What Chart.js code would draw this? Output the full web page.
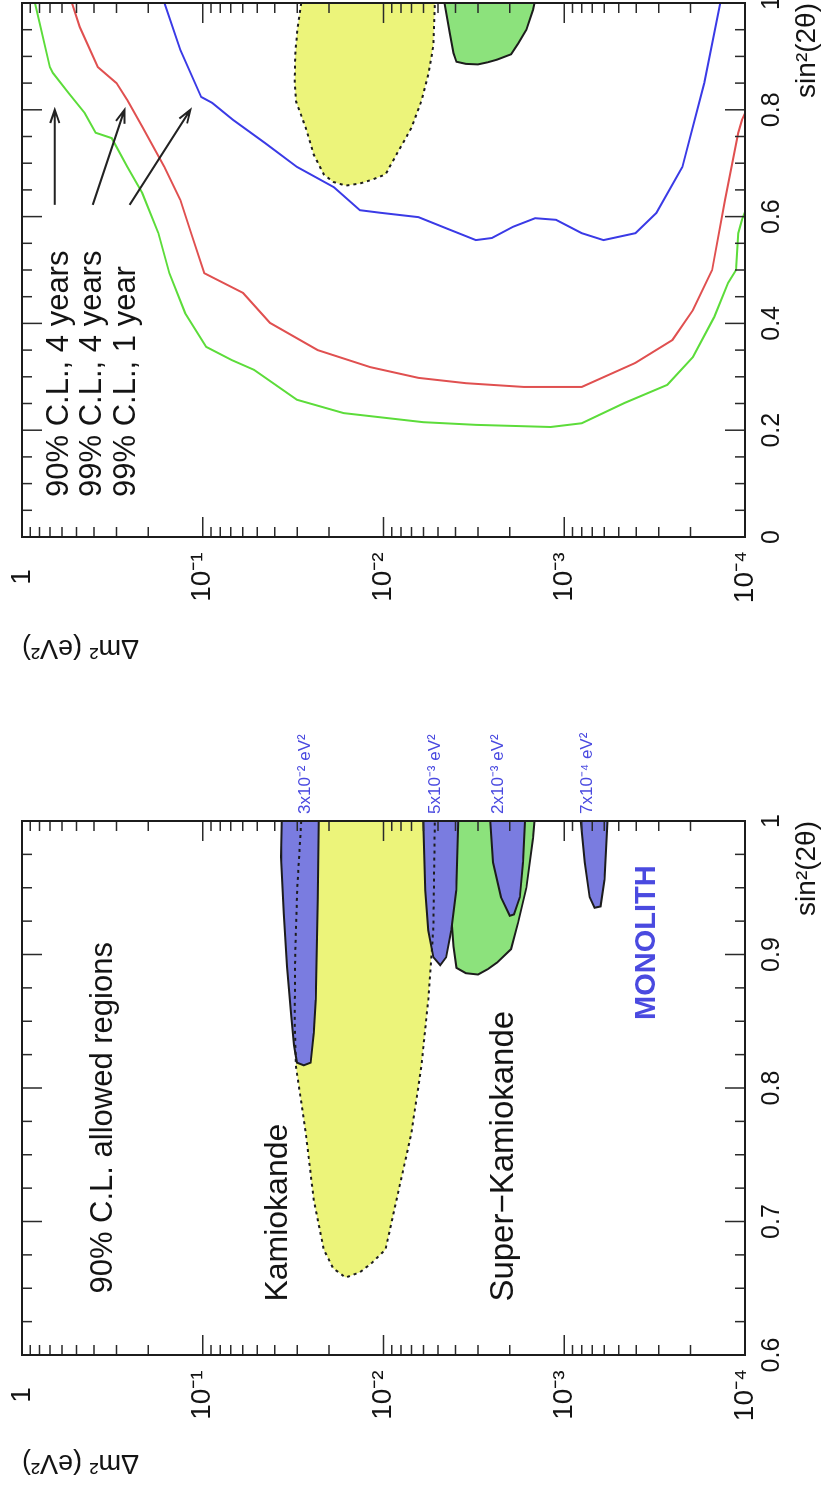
<!DOCTYPE html>
<html>
<head>
<meta charset="utf-8">
<title>MONOLITH – allowed regions and sensitivity</title>
<script src="https://cdn.jsdelivr.net/npm/chart.js@4.4.1/dist/chart.umd.min.js"></script>
<style>
  html, body { margin:0; padding:0; background:#fff; }
  body { width:833px; height:1500px; overflow:hidden; position:relative; }
  #fig { position:absolute; left:0; top:0; width:1500px; height:833px;
         transform-origin:0 0; transform:translate(0px,1500px) rotate(-90deg); }
  #fig canvas { position:absolute; top:0; }
  #cLeft { left:0; }
  #cRight { left:750px; }
</style>
</head>
<body>
<div id="fig">
  <canvas id="cLeft" width="830" height="833"></canvas>
  <canvas id="cRight" width="750" height="833"></canvas>
</div>
<script>
// ---------------- axes ----------------
const dm2Ticks = [1, 1e-1, 1e-2, 1e-3, 1e-4];
const dm2TickLabels = ['1', '10⁻¹', '10⁻²', '10⁻³', '10⁻⁴'];
const leftSinTicks = [0.6, 0.7, 0.8, 0.9, 1];
const leftSinLabels = ['0.6', '0.7', '0.8', '0.9', '1'];
const rightSinTicks = [0, 0.2, 0.4, 0.6, 0.8, 1];
const rightSinLabels = ['0', '0.2', '0.4', '0.6', '0.8', '1'];

// ---------------- allowed regions (sin²2θ , Δm² in eV²) ----------------
const kamSin2 = [1.0, 0.95, 0.90, 0.85, 0.816, 0.766, 0.716, 0.679, 0.665, 0.658, 0.662, 0.669, 0.679, 0.716, 0.766, 0.816, 0.866, 0.92, 1.0];
const kamDm2  = [0.0285, 0.0300, 0.0308, 0.0310, 0.0305, 0.0269, 0.0243, 0.0214, 0.019, 0.0162, 0.0135, 0.0116, 0.00975, 0.00848, 0.00701, 0.00618, 0.00565, 0.0053, 0.0052];

const skSin2 = [1.0, 0.944, 0.906, 0.89, 0.886, 0.885, 0.889, 0.894, 0.904, 0.924, 0.95, 0.987, 1.0];
const skDm2  = [4.6e-3, 4.3e-3, 4.1e-3, 3.95e-3, 3.5e-3, 3.0e-3, 2.65e-3, 2.35e-3, 1.97e-3, 1.80e-3, 1.62e-3, 1.49e-3, 1.46e-3];

// MONOLITH expected regions for true Δm² = 3e-2, 5e-3, 2e-3, 7e-4 eV²
const mono30Sin2 = [1.0, 0.973, 0.931, 0.891, 0.856, 0.832, 0.819, 0.817, 0.819, 0.841, 0.866, 0.903, 0.941, 1.0];
const mono30Dm2  = [0.0365, 0.0369, 0.0356, 0.0342, 0.0325, 0.0313, 0.0301, 0.0276, 0.0253, 0.0243, 0.0237, 0.0234, 0.0231, 0.0228];
const mono5Sin2 = [1.0, 0.948, 0.918, 0.898, 0.892, 0.898, 0.918, 0.948, 1.0];
const mono5Dm2  = [6.02e-3, 5.87e-3, 5.65e-3, 5.30e-3, 4.85e-3, 4.50e-3, 4.22e-3, 3.96e-3, 3.86e-3];
const mono2Sin2 = [1.0, 0.969, 0.943, 0.929, 0.930, 0.943, 0.969, 1.0];
const mono2Dm2  = [2.57e-3, 2.48e-3, 2.24e-3, 2.0e-3, 1.9e-3, 1.76e-3, 1.69e-3, 1.65e-3];
const mono07Sin2 = [1.0, 0.969, 0.943, 0.935, 0.936, 0.956, 1.0];
const mono07Dm2  = [8.11e-4, 7.71e-4, 7.24e-4, 6.8e-4, 6.3e-4, 5.98e-4, 5.76e-4];

// ---------------- sensitivity curves ----------------
const cl90y4Sin2 = [1.0, 0.880, 0.869, 0.831, 0.794, 0.757, 0.747, 0.693, 0.644, 0.569, 0.494, 0.419, 0.356, 0.331, 0.313, 0.257, 0.232, 0.215, 0.210, 0.206, 0.213, 0.251, 0.285, 0.337, 0.412, 0.476, 0.500, 0.569, 0.594, 0.62];
const cl90y4Dm2  = [0.848, 0.701, 0.675, 0.551, 0.450, 0.391, 0.319, 0.261, 0.216, 0.176, 0.153, 0.125, 0.0957, 0.0688, 0.0520, 0.0301, 0.0166, 6.02e-3, 3.08e-3, 1.19e-3, 8.01e-4, 4.64e-4, 2.69e-4, 1.94e-4, 1.48e-4, 1.24e-4, 1.12e-4, 1.09e-4, 1.04e-4, 0.97e-4];
const cl99y4Sin2 = [1.0, 0.955, 0.880, 0.850, 0.818, 0.768, 0.693, 0.631, 0.569, 0.494, 0.457, 0.401, 0.350, 0.318, 0.298, 0.288, 0.281, 0.281, 0.326, 0.369, 0.425, 0.500, 0.631, 0.757, 0.781, 0.80];
const cl99y4Dm2  = [0.530, 0.479, 0.381, 0.300, 0.261, 0.216, 0.163, 0.133, 0.116, 0.0981, 0.0598, 0.0425, 0.0231, 0.0118, 6.41e-3, 3.49e-3, 1.67e-3, 8.01e-4, 4.04e-4, 2.52e-4, 1.94e-4, 1.52e-4, 1.29e-4, 1.09e-4, 1.04e-4, 0.98e-4];
const cl99y1Sin2 = [1.0, 0.912, 0.824, 0.813, 0.781, 0.738, 0.693, 0.655, 0.612, 0.607, 0.599, 0.575, 0.556, 0.560, 0.581, 0.597, 0.594, 0.569, 0.556, 0.569, 0.607, 0.693, 0.850, 1.0];
const cl99y1Dm2  = [0.163, 0.133, 0.102, 0.0887, 0.0679, 0.0453, 0.0301, 0.0188, 0.0135, 0.0103, 6.41e-3, 4.27e-3, 3.08e-3, 2.51e-3, 1.92e-3, 1.45e-3, 1.11e-3, 8.01e-4, 6.06e-4, 4.04e-4, 3.09e-4, 2.22e-4, 1.68e-4, 1.37e-4];

// ---------------- texts ----------------
const leftTexts = ['90% C.L. allowed regions', 'Kamiokande', 'Super−Kamiokande', 'MONOLITH'];
const leftTextSin2 = [0.646, 0.640, 0.640, 0.851];
const leftTextDm2 = [0.319, 0.0342, 0.00192, 3.13e-4];
const monoLabels = ['3x10⁻² eV²', '5x10⁻³ eV²', '2x10⁻³ eV²', '7x10⁻⁴ eV²'];
const monoLabelDm2 = [0.0272, 0.00517, 0.00232, 0.000742];
const legendTexts = ['90% C.L., 4 years', '99% C.L., 4 years', '99% C.L., 1 year'];
const legendSin2 = [0.075, 0.075, 0.075];
const legendDm2 = [0.558, 0.367, 0.2384];
const arrowFromSin2 = [0.622, 0.622, 0.622];
const arrowFromDm2 = [0.658, 0.406, 0.254];
const arrowToSin2 = [0.800, 0.800, 0.800];
const arrowToDm2 = [0.658, 0.271, 0.117];

// ---------------- styles ----------------
const FONT = "'Liberation Sans', Arial, Helvetica, sans-serif";
const YELLOW = '#ecf47a';
const GREEN = '#8ce27c';
const BLUE = '#7a7ce0';
const OUTLINE = '#1c1c1c';
const TEXT = '#141414';
const BLUE_TEXT = '#4a4ae0';
const C_GREEN = '#5cdc3a';
const C_RED = '#e05050';
const C_BLUE = '#3a3ae6';

const pts = (xs, ys) => xs.map((x, i) => ({x: x, y: ys[i]}));

function frameTicks(xMajor, xMinor) {
  return {
    id: 'frameTicks',
    afterDatasetsDraw(chart) {
      const {ctx, chartArea: a, scales: {x, y}} = chart;
      ctx.save();
      ctx.strokeStyle = '#2a2a2a';
      ctx.lineWidth = 1.5;
      ctx.beginPath();
      for (let e = -4; e <= 0; e++) {
        for (let k = 1; k <= 9; k++) {
          if (e === 0 && k > 1) break;
          const py = y.getPixelForValue(k * Math.pow(10, e));
          const len = k === 1 ? 20 : 10;
          ctx.moveTo(a.left, py); ctx.lineTo(a.left + len, py);
          ctx.moveTo(a.right, py); ctx.lineTo(a.right - len, py);
        }
      }
      const n = Math.round((x.max - x.min) / xMinor);
      const per = Math.round(xMajor / xMinor);
      for (let i = 0; i <= n; i++) {
        const px = x.getPixelForValue(x.min + i * xMinor);
        const len = i % per === 0 ? 20 : 10;
        ctx.moveTo(px, a.bottom); ctx.lineTo(px, a.bottom - len);
        ctx.moveTo(px, a.top); ctx.lineTo(px, a.top + len);
      }
      ctx.stroke();
      ctx.lineWidth = 2;
      ctx.strokeStyle = OUTLINE;
      ctx.strokeRect(a.left, a.top, a.right - a.left, a.bottom - a.top);
      ctx.restore();
    }
  };
}

function notes(cfg) {
  return {
    id: 'notes',
    afterDatasetsDraw(chart) {
      const {ctx, chartArea: a, scales: {x, y}} = chart;
      ctx.save();
      ctx.textAlign = 'left';
      (cfg.texts || []).forEach(t => {
        ctx.font = t.font;
        ctx.fillStyle = t.color || TEXT;
        ctx.textBaseline = 'alphabetic';
        ctx.fillText(t.text, x.getPixelForValue(t.x), y.getPixelForValue(t.y));
      });
      (cfg.edgeTexts || []).forEach(t => {
        ctx.font = t.font;
        ctx.fillStyle = t.color || TEXT;
        ctx.textBaseline = 'middle';
        ctx.fillText(t.text, a.right + t.dx, y.getPixelForValue(t.y));
      });
      ctx.strokeStyle = '#222';
      ctx.lineWidth = 2;
      (cfg.arrows || []).forEach(ar => {
        const x0 = x.getPixelForValue(ar.x0), y0 = y.getPixelForValue(ar.y0);
        const x1 = x.getPixelForValue(ar.x1), y1 = y.getPixelForValue(ar.y1);
        const ang = Math.atan2(y1 - y0, x1 - x0), L = 14, w = 0.33;
        ctx.beginPath();
        ctx.moveTo(x0, y0); ctx.lineTo(x1, y1);
        ctx.moveTo(x1 - L * Math.cos(ang - w), y1 - L * Math.sin(ang - w));
        ctx.lineTo(x1, y1);
        ctx.lineTo(x1 - L * Math.cos(ang + w), y1 - L * Math.sin(ang + w));
        ctx.stroke();
      });
      ctx.restore();
    }
  };
}

function options(p) {
  return {
    responsive: false, animation: false, devicePixelRatio: 1, events: [],
    indexAxis: 'y',
    layout: {padding: {left: 0, right: p.padRight, top: 22, bottom: 0}},
    plugins: {legend: {display: false}, tooltip: {enabled: false}},
    elements: {point: {radius: 0, hoverRadius: 0}, line: {tension: 0}},
    scales: {
      x: {
        type: 'linear', position: 'bottom', min: p.xMin, max: p.xMax, offset: false,
        grid: {display: false, drawTicks: false}, border: {display: false},
        afterBuildTicks: s => { s.ticks = p.xTicks.map(v => ({value: v})); },
        afterFit: s => { s.height = 88; s.paddingLeft = 0; s.paddingRight = 0; },
        ticks: {autoSkip: false, maxRotation: 0, minRotation: 0, padding: 12, color: TEXT,
                font: {family: FONT, size: 25},
                callback: v => { const i = p.xTicks.indexOf(v); return i >= 0 ? p.xLabels[i] : ''; }},
        title: {display: true, text: 'sin²(2θ)', align: 'end', color: TEXT,
                font: {family: FONT, size: 28}, padding: {top: 0, bottom: 9}}
      },
      y: {
        type: 'logarithmic', position: 'left', min: 1e-4, max: 1,
        grid: {display: false, drawTicks: false}, border: {display: false},
        afterBuildTicks: s => { s.ticks = dm2Ticks.map(v => ({value: v})); },
        afterFit: s => { s.width = p.yWidth; s.paddingTop = 0; s.paddingBottom = 0; },
        ticks: {autoSkip: false, padding: 14, crossAlign: 'center', color: TEXT,
                font: {family: FONT, size: 28},
                callback: v => { const i = dm2Ticks.indexOf(v); return i >= 0 ? dm2TickLabels[i] : ''; }},
        title: {display: true, text: 'Δm² (eV²)', align: 'end', color: TEXT,
                font: {family: FONT, size: 27}, padding: {top: p.yTitlePad, bottom: 0}}
      }
    }
  };
}

function region(label, xs, ys, fillColor, order) {
  return {label, data: pts(xs, ys), fill: 'shape', backgroundColor: fillColor,
          borderColor: OUTLINE, borderWidth: 2, order};
}

// ---------------- left panel: 90% C.L. allowed regions ----------------
new Chart(document.getElementById('cLeft'), {
  type: 'line',
  data: {datasets: [
    {label: 'Kamiokande boundary', data: pts(kamSin2, kamDm2), fill: false,
     borderColor: OUTLINE, borderWidth: 2, borderDash: [3, 4], order: 0},
    region('MONOLITH 3x10⁻² eV²', mono30Sin2, mono30Dm2, BLUE, 1),
    region('MONOLITH 5x10⁻³ eV²', mono5Sin2, mono5Dm2, BLUE, 1),
    region('MONOLITH 2x10⁻³ eV²', mono2Sin2, mono2Dm2, BLUE, 1),
    region('MONOLITH 7x10⁻⁴ eV²', mono07Sin2, mono07Dm2, BLUE, 1),
    region('Super-Kamiokande', skSin2, skDm2, GREEN, 2),
    {label: 'Kamiokande', data: pts(kamSin2, kamDm2), fill: 'shape', backgroundColor: YELLOW,
     borderColor: 'rgba(0,0,0,0)', borderWidth: 0, order: 3}
  ]},
  options: options({xMin: 0.6, xMax: 1, xTicks: leftSinTicks, xLabels: leftSinLabels,
                    padRight: 151, yWidth: 145, yTitlePad: 21}),
  plugins: [frameTicks(0.1, 0.025), notes({
    texts: leftTexts.map((t, i) => ({
      text: t, x: leftTextSin2[i], y: leftTextDm2[i],
      font: i === 3 ? `bold 29px ${FONT}` : (i === 0 ? `31px ${FONT}` : (i === 2 ? `33px ${FONT}` : `32px ${FONT}`)),
      color: i === 3 ? BLUE_TEXT : TEXT})),
    edgeTexts: monoLabels.map((t, i) => ({text: t, y: monoLabelDm2[i], dx: 7,
      font: `17px ${FONT}`, color: BLUE_TEXT}))
  })]
});

// ---------------- right panel: MONOLITH sensitivity ----------------
new Chart(document.getElementById('cRight'), {
  type: 'line',
  data: {datasets: [
    {label: '90% C.L., 4 years', data: pts(cl90y4Sin2, cl90y4Dm2), fill: false, borderColor: C_GREEN, borderWidth: 2, order: 0},
    {label: '99% C.L., 4 years', data: pts(cl99y4Sin2, cl99y4Dm2), fill: false, borderColor: C_RED, borderWidth: 2, order: 0},
    {label: '99% C.L., 1 year', data: pts(cl99y1Sin2, cl99y1Dm2), fill: false, borderColor: C_BLUE, borderWidth: 2, order: 0},
    {label: 'Kamiokande boundary', data: pts(kamSin2, kamDm2), fill: false,
     borderColor: OUTLINE, borderWidth: 2, borderDash: [3, 4], order: 1},
    region('Super-Kamiokande', skSin2, skDm2, GREEN, 2),
    {label: 'Kamiokande', data: pts(kamSin2, kamDm2), fill: 'shape', backgroundColor: YELLOW,
     borderColor: 'rgba(0,0,0,0)', borderWidth: 0, order: 3}
  ]},
  options: options({xMin: 0, xMax: 1, xTicks: rightSinTicks, xLabels: rightSinLabels,
                    padRight: 3, yWidth: 213, yTitlePad: 86}),
  plugins: [frameTicks(0.2, 0.05), notes({
    texts: legendTexts.map((t, i) => ({text: t, x: legendSin2[i], y: legendDm2[i], font: `31px ${FONT}`})),
    arrows: arrowFromSin2.map((v, i) => ({x0: v, y0: arrowFromDm2[i], x1: arrowToSin2[i], y1: arrowToDm2[i]}))
  })]
});
</script>
</body>
</html>
